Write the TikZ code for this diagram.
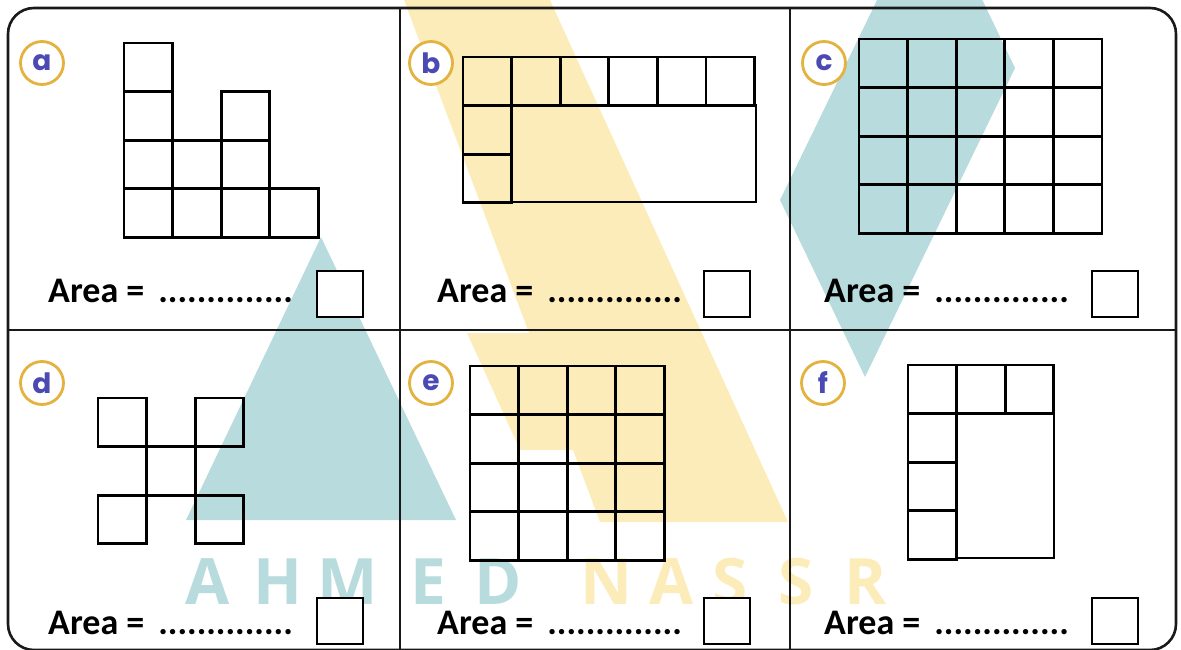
\documentclass[tikz,border=0pt]{standalone}
\usepackage{fontspec}
\setmainfont{Carlito}
\newfontfamily\tagfont{Poppins}
\newfontfamily\wmfont{Open Sans}
\definecolor{ringgold}{RGB}{228,178,62}
\definecolor{tagblue}{RGB}{74,74,178}
\definecolor{wmteal}{RGB}{184,219,221}
\definecolor{wmyellow}{RGB}{252,236,186}
\newcommand{\sq}{48.6}
\newcommand{\arealine}{Area =\kern14pt..............}
\begin{document}
\begin{tikzpicture}[x=1pt, y=-1pt,
      frame/.style={line width=2.6pt, draw=black!90},
      cell/.style={line width=2.8pt, draw=black},
      tag/.style={
        % The ring:
        circle, minimum size=43pt, inner sep=0pt, line width=2.8pt,
        draw=ringgold, fill=white,
        % The letter
        text=tagblue, font=\tagfont\bfseries\fontsize{28}{28}\selectfont},
      areatext/.style={anchor=base west, inner sep=0pt,
        font=\bfseries\fontsize{36}{36}\selectfont},
      answer/.style={rectangle, minimum size=46pt, inner sep=0pt,
        line width=2.6pt, draw=black, fill=white},
      wmletter/.style={anchor=base, inner sep=0pt,
        font=\wmfont\bfseries\fontsize{64}{64}\selectfont}]
    \useasboundingbox (0,0) rectangle (1181,650);
    % watermark behind everything
    \begin{scope}
      \clip (0,0) rectangle (1181,650);
      \fill[wmyellow] (404,0) -- (550,0) -- (788,522) -- (600,522) -- cycle;
      \fill[wmyellow] (467,333) -- (531,333) -- (574,450) -- (520,450) -- cycle;
      \fill[wmteal] (321,237) -- (186,520) -- (456,520) -- cycle;
      \fill[wmteal] (930,-109) -- (1015,68) -- (865,377) -- (780,200) -- cycle;
    \end{scope}
    \foreach \x/\c [count=\i] in {208/A,278/H,348/M,428/E,498/D}
      \node(wma\i)[wmletter, text=wmteal] at (\x,604) {\c};
    \foreach \x/\c [count=\i] in {607/N,672/A,730/S,796/S,866/R}
      \node(wmb\i)[wmletter, text=wmyellow] at (\x,604) {\c};
    % outer frame and dividers
    \draw[frame, rounded corners=26pt] (8,8) rectangle (1176,650);
    \draw[frame] (400,8) -- (400,650);
    \draw[frame] (790,8) -- (790,650);
    \draw[frame] (8,330) -- (1176,330);
    % a
    \foreach \c/\r in {0/0,0/1,0/2,0/3,1/2,1/3,2/1,2/2,2/3,3/3}
      \draw[cell] (124+\c*\sq, 43+\r*\sq) rectangle ++(\sq,\sq);
    % b
    \foreach \c in {0,...,5}
      \draw[cell] (463+\c*\sq, 57) rectangle ++(\sq,\sq);
    \foreach \r in {1,2}
      \draw[cell] (463, 57+\r*\sq) rectangle ++(\sq,\sq);
    \draw[cell] (463+\sq, 57+\sq) rectangle (756, 202);
    % c
    \foreach \c in {0,...,4}
      \foreach \r in {0,...,3}
        \draw[cell] (859+\c*\sq, 39+\r*\sq) rectangle ++(\sq,\sq);
    % d
    \foreach \c/\r in {0/0,2/0,1/1,0/2,2/2}
      \draw[cell] (98+\c*\sq, 398+\r*\sq) rectangle ++(\sq,\sq);
    % e
    \foreach \c in {0,...,3}
      \foreach \r in {0,...,3}
        \draw[cell] (470+\c*\sq, 366+\r*\sq) rectangle ++(\sq,\sq);
    % f
    \foreach \c in {0,1,2}
      \draw[cell] (908+\c*\sq, 365) rectangle ++(\sq,\sq);
    \foreach \r in {1,2,3}
      \draw[cell] (908, 365+\r*\sq) rectangle ++(\sq,\sq);
    \draw[cell] (908+\sq, 365+\sq) rectangle (1054, 558);
    % letters
    \node(taga)[tag] at (42,63) {a};
    \node(tagb)[tag] at (431,63) {b};
    \node(tagc)[tag] at (824,63) {c};
    \node(tagd)[tag] at (42,383) {d};
    \node(tage)[tag] at (431,383) {e};
    \node(tagf)[tag] at (823,383) {f};
    % area lines
    \node(areaa)[areatext] at (48,302) {\arealine};
    \node(areab)[areatext] at (437,302) {\arealine};
    \node(areac)[areatext] at (824,302) {\arealine};
    \node(aread)[areatext] at (48,634) {\arealine};
    \node(areae)[areatext] at (437,634) {\arealine};
    \node(areaf)[areatext] at (824,634) {\arealine};
    \node(boxa)[answer] at (340,294) {};
    \node(boxb)[answer] at (727,294) {};
    \node(boxc)[answer] at (1115,294) {};
    \node(boxd)[answer] at (340,621) {};
    \node(boxe)[answer] at (727,621) {};
    \node(boxf)[answer] at (1115,621) {};
  \end{tikzpicture}
\end{document}
